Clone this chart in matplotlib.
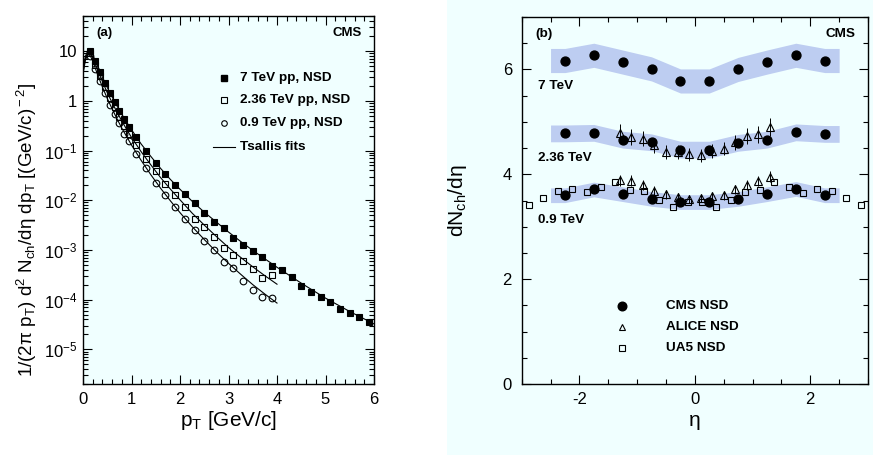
import matplotlib
matplotlib.use('Agg')
import matplotlib.pyplot as plt
import numpy as np
from matplotlib.patches import Rectangle
from matplotlib.ticker import MultipleLocator, LogLocator, FuncFormatter, NullFormatter, FixedLocator

plt.rcParams['font.family'] = ['Liberation Sans', 'DejaVu Sans']
plt.rcParams['mathtext.fontset'] = 'custom'
plt.rcParams['mathtext.rm'] = 'Liberation Sans'
plt.rcParams['mathtext.it'] = 'Liberation Sans:italic'
plt.rcParams['mathtext.bf'] = 'Liberation Sans:bold'
plt.rcParams['axes.unicode_minus'] = False

# ---------------- Panel (a) data ----------------
pt_7 = [0.15, 0.25, 0.35, 0.45, 0.55, 0.65, 0.75, 0.85, 0.95,
        1.1, 1.3, 1.5, 1.7, 1.9, 2.1, 2.3, 2.5, 2.7, 2.9, 3.1, 3.3, 3.5, 3.7, 3.9,
        4.1, 4.3, 4.5, 4.7, 4.9, 5.1, 5.3, 5.5, 5.7, 5.9]
val_7 = [10.1, 6.47, 3.84, 2.30, 1.43, 0.94, 0.63, 0.43, 0.30,
         0.186, 0.100, 0.0566, 0.0335, 0.0207, 0.01345, 8.59e-3, 5.58e-3, 3.67e-3,
         2.75e-3, 1.77e-3, 1.25e-3, 9.29e-4, 7.16e-4, 4.79e-4,
         3.98e-4, 2.84e-4, 1.87e-4, 1.39e-4, 1.14e-4, 8.75e-5, 6.53e-5, 5.35e-5,
         4.45e-5, 3.52e-5]

pt_236 = [0.15, 0.25, 0.35, 0.45, 0.55, 0.65, 0.75, 0.85, 0.95,
          1.1, 1.3, 1.5, 1.7, 1.9, 2.1, 2.3, 2.5, 2.7, 2.9, 3.1, 3.3, 3.5, 3.7, 3.9]
val_236 = [9.3, 5.37, 3.16, 1.86, 1.12, 0.74, 0.48, 0.316, 0.219,
           0.129, 0.0681, 0.0385, 0.0214, 0.0129, 7.46e-3, 4.23e-3, 2.88e-3, 1.80e-3,
           1.08e-3, 7.76e-4, 6.10e-4, 4.17e-4, 2.72e-4, 3.13e-4]

pt_09 = [0.15, 0.25, 0.35, 0.45, 0.55, 0.65, 0.75, 0.85, 0.95,
         1.1, 1.3, 1.5, 1.7, 1.9, 2.1, 2.3, 2.5, 2.7, 2.9, 3.1, 3.3, 3.5, 3.7, 3.9]
val_09 = [8.0, 4.34, 2.49, 1.43, 0.84, 0.55, 0.355, 0.22, 0.157,
          0.086, 0.0455, 0.0227, 0.0127, 7.24e-3, 4.17e-3, 2.57e-3, 1.51e-3, 1.0e-3,
          5.82e-4, 4.27e-4, 2.40e-4, 1.55e-4, 1.12e-4, 1.06e-4]

# Tsallis fit curves
fit_pt_7 = [0.0, 0.05, 0.1, 0.15, 0.2, 0.3, 0.4, 0.5, 0.6, 0.7, 0.8, 0.9, 1.0,
            1.2, 1.4, 1.6, 1.8, 2.0, 2.25, 2.5, 2.75, 3.0, 3.25, 3.5, 3.75, 4.0,
            4.5, 5.0, 5.5, 6.0]
fit_val_7 = [4.17, 7.94, 10.2, 9.77, 8.32, 5.13, 3.02, 1.86, 1.20, 0.794, 0.537, 0.372,
             0.263, 0.135, 0.0759, 0.0437, 0.0263, 0.0166, 9.55e-3, 5.75e-3, 3.63e-3,
             2.29e-3, 1.48e-3, 9.77e-4, 6.61e-4, 4.47e-4, 2.14e-4, 1.07e-4, 5.75e-5, 3.24e-5]
fit_pt_low = [0.0, 0.05, 0.1, 0.15, 0.2, 0.3, 0.4, 0.5, 0.6, 0.7, 0.8, 0.9, 1.0,
              1.2, 1.4, 1.6, 1.8, 2.0, 2.25, 2.5, 2.75, 3.0, 3.25, 3.5, 3.75, 4.0]
fit_val_236 = [3.80, 7.24, 9.33, 9.02, 7.41, 4.22, 2.45, 1.46, 0.923, 0.596, 0.394, 0.266,
               0.184, 0.0944, 0.0513, 0.0285, 0.0168, 0.0102, 5.50e-3, 3.16e-3, 1.86e-3,
               1.12e-3, 7.08e-4, 4.57e-4, 3.02e-4, 2.04e-4]
fit_val_09 = [3.47, 6.61, 8.51, 8.13, 6.31, 3.39, 1.91, 1.12, 0.692, 0.437, 0.282, 0.191,
              0.129, 0.0631, 0.0324, 0.0174, 9.77e-3, 5.62e-3, 2.95e-3, 1.62e-3, 9.12e-4,
              5.37e-4, 3.24e-4, 2.00e-4, 1.29e-4, 8.51e-5]

legend_a = ['7 TeV pp, NSD', '2.36 TeV pp, NSD', '0.9 TeV pp, NSD', 'Tsallis fits']

# ---------------- Panel (b) data ----------------
cms_eta = [-2.25, -1.75, -1.25, -0.75, -0.25, 0.25, 0.75, 1.25, 1.75, 2.25]
cms_7 = [6.17, 6.27, 6.14, 6.01, 5.78, 5.78, 6.00, 6.14, 6.27, 6.17]
cms_236 = [4.78, 4.79, 4.66, 4.61, 4.47, 4.47, 4.60, 4.66, 4.80, 4.77]
cms_09 = [3.60, 3.71, 3.62, 3.53, 3.47, 3.47, 3.53, 3.62, 3.72, 3.60]
syst_7, syst_236, syst_09 = 0.23, 0.16, 0.14

alice_eta = [-1.3, -1.1, -0.9, -0.7, -0.5, -0.3, -0.1, 0.1, 0.3, 0.5, 0.7, 0.9, 1.1, 1.3]
alice_236 = [4.78, 4.71, 4.68, 4.55, 4.43, 4.43, 4.38, 4.36, 4.45, 4.49, 4.61, 4.73, 4.76, 4.90]
alice_236_err = [0.17, 0.16, 0.15, 0.14, 0.13, 0.13, 0.12, 0.12, 0.13, 0.13, 0.14, 0.15, 0.16, 0.17]
alice_09 = [3.885, 3.88, 3.80, 3.69, 3.615, 3.565, 3.53, 3.55, 3.58, 3.60, 3.715, 3.80, 3.87, 3.955]
alice_09_err = [0.11, 0.10, 0.10, 0.09, 0.09, 0.08, 0.08, 0.08, 0.08, 0.09, 0.09, 0.10, 0.10, 0.11]

ua5_eta = [-2.875, -2.625, -2.375, -2.125, -1.875, -1.625, -1.375, -1.125, -0.875, -0.625,
           -0.375, -0.125, 0.125, 0.375, 0.625, 0.875, 1.125, 1.375, 1.625, 1.875,
           2.125, 2.375, 2.625, 2.875]
ua5_09 = [3.41, 3.55, 3.68, 3.71, 3.66, 3.75, 3.86, 3.70, 3.68, 3.51, 3.38, 3.48,
          3.48, 3.38, 3.51, 3.66, 3.70, 3.85, 3.76, 3.65, 3.71, 3.68, 3.55, 3.41]

energy_labels = ['7 TeV', '2.36 TeV', '0.9 TeV']
legend_b = ['CMS NSD', 'ALICE NSD', 'UA5 NSD']

# ---------------- Styling ----------------
bg = '#F0FFFF'
band_color = '#BDCDF1'
W, H = 873, 455
fig = plt.figure(figsize=(W / 100, H / 100), dpi=100)
fig.add_artist(Rectangle((447 / W, 0), 1 - 447 / W, 1, transform=fig.transFigure,
                         facecolor=bg, edgecolor='none', zorder=-5))

ax1 = fig.add_axes([83 / W, 1 - 384 / H, (374 - 83) / W, (384 - 16) / H])
ax2 = fig.add_axes([521.7 / W, 1 - 384 / H, (868 - 521.7) / W, (384 - 17) / H])
for ax in (ax1, ax2):
    ax.set_facecolor(bg)
    for s in ax.spines.values():
        s.set_linewidth(1.0)
    ax.tick_params(which='both', direction='in', top=True, right=True, width=0.8)
    ax.tick_params(which='major', length=6.7)
    ax.tick_params(which='minor', length=3.3)

# ---- Panel (a)
ms = 4.8
ax1.plot(fit_pt_7, fit_val_7, color='black', lw=0.8, zorder=2)
ax1.plot(fit_pt_low, fit_val_236, color='black', lw=0.8, zorder=2)
ax1.plot(fit_pt_low, fit_val_09, color='black', lw=0.8, zorder=2)
ax1.plot(pt_09, val_09, 'o', ms=ms, mfc='none', mec='black', mew=0.8, zorder=3)
ax1.plot(pt_236, val_236, 's', ms=ms, mfc='none', mec='black', mew=0.8, zorder=3)
ax1.plot(pt_7, val_7, 's', ms=ms, mfc='black', mec='black', mew=0.8, zorder=4)

ax1.set_yscale('log')
ax1.set_xlim(0, 6)
ax1.set_ylim(2.0e-6, 51)
ax1.xaxis.set_major_locator(MultipleLocator(1))
ax1.xaxis.set_minor_locator(MultipleLocator(0.2))
ax1.yaxis.set_major_locator(FixedLocator([1e-5, 1e-4, 1e-3, 1e-2, 1e-1, 1, 10]))
ax1.yaxis.set_minor_locator(LogLocator(base=10, subs=np.arange(2, 10), numticks=20))
ax1.yaxis.set_minor_formatter(NullFormatter())


def yfmt(v, pos):
    e = int(round(np.log10(v)))
    if e == 0:
        return '1'
    if e == 1:
        return '10'
    return r'$\mathregular{10^{%d}}$' % e


ax1.yaxis.set_major_formatter(FuncFormatter(yfmt))
ax1.tick_params(axis='x', labelsize=12, pad=6)
ax1.tick_params(axis='y', labelsize=12, pad=4)
ax1.set_xlabel(r'p$_{\rm T}$ [GeV/c]', fontsize=15, labelpad=1)
fig.text(27 / W, 1 - 230 / H,
         r'1/(2π p$_{\rm T}$) d$^{\rm 2}$ N$_{\rm ch}$/dη dp$_{\rm T}$ [(GeV/c)$^{\rm -2}$]',
         fontsize=13.5, rotation=90, ha='center', va='center')

ax1.text(0.047, 0.953, '(a)', transform=ax1.transAxes, fontsize=9.5, fontweight='bold',
         ha='left', va='center')
ax1.text(0.958, 0.953, 'CMS', transform=ax1.transAxes, fontsize=9.5, fontweight='bold',
         ha='right', va='center')

leg_y = [0.831, 0.771, 0.708, 0.643]
ax1.plot([0.4845], [leg_y[0]], 's', ms=4.0, mfc='black', mec='black', transform=ax1.transAxes)
ax1.plot([0.4845], [leg_y[1]], 's', ms=4.0, mfc='none', mec='black', mew=0.8, transform=ax1.transAxes)
ax1.plot([0.4845], [leg_y[2]], 'o', ms=4.0, mfc='none', mec='black', mew=0.8, transform=ax1.transAxes)
ax1.plot([0.4457, 0.5223], [leg_y[3], leg_y[3]], color='black', lw=0.8, transform=ax1.transAxes)
for yy, lab in zip(leg_y, legend_a):
    ax1.text(0.5395, yy, lab, transform=ax1.transAxes, fontsize=9.7, fontweight='bold',
             ha='left', va='center')

# ---- Panel (b)
for vals, syst in ((cms_7, syst_7), (cms_236, syst_236), (cms_09, syst_09)):
    bx = [-2.5] + cms_eta + [2.5]
    bc = np.array([vals[0]] + vals + [vals[-1]])
    ax2.fill_between(bx, bc - syst, bc + syst, color=band_color, lw=0, zorder=1)

ax2.errorbar(alice_eta, alice_236, yerr=alice_236_err, fmt='^', ms=5.3, mfc='none', mec='black',
             mew=0.8, ecolor='black', elinewidth=0.7, capsize=0, zorder=4)
ax2.errorbar(alice_eta, alice_09, yerr=alice_09_err, fmt='^', ms=5.3, mfc='none', mec='black',
             mew=0.8, ecolor='black', elinewidth=0.7, capsize=0, zorder=4)
ax2.plot(ua5_eta, ua5_09, 's', ms=4.4, mfc='none', mec='black', mew=0.8, zorder=4)
for vals in (cms_7, cms_236, cms_09):
    ax2.plot(cms_eta, vals, 'o', ms=6.4, mfc='black', mec='black', zorder=3)

ax2.set_xlim(-3, 3)
ax2.set_ylim(0, 7)
ax2.xaxis.set_major_locator(MultipleLocator(2))
ax2.xaxis.set_minor_locator(MultipleLocator(0.5))
ax2.yaxis.set_major_locator(MultipleLocator(2))
ax2.yaxis.set_minor_locator(MultipleLocator(0.5))
ax2.tick_params(axis='x', labelsize=12, pad=6)
ax2.tick_params(axis='y', labelsize=12, pad=7)
ax2.set_xlabel('η', fontsize=15, labelpad=3)
ax2.set_ylabel(r'dN$_{\rm ch}$/dη', fontsize=15)
ax2.yaxis.set_label_coords(-0.152, 0.5)

ax2.text(0.0384, 0.953, '(b)', transform=ax2.transAxes, fontsize=9.7, fontweight='bold',
         ha='left', va='center')
ax2.text(0.9625, 0.953, 'CMS', transform=ax2.transAxes, fontsize=9.7, fontweight='bold',
         ha='right', va='center')
for yy, lab in zip([0.812, 0.615, 0.447], energy_labels):
    ax2.text(0.046, yy, lab, transform=ax2.transAxes, fontsize=9.7, fontweight='bold',
             ha='left', va='center')

lb_y = [0.2125, 0.1545, 0.097]
ax2.plot([0.2896], [lb_y[0]], 'o', ms=6.2, mfc='black', mec='black', transform=ax2.transAxes)
ax2.plot([0.2896], [lb_y[1]], '^', ms=5, mfc='none', mec='black', mew=0.8, transform=ax2.transAxes)
ax2.plot([0.2896], [lb_y[2]], 's', ms=4.2, mfc='none', mec='black', mew=0.8, transform=ax2.transAxes)
for yy, lab in zip(lb_y, legend_b):
    ax2.text(0.4166, yy, lab, transform=ax2.transAxes, fontsize=9.7, fontweight='bold',
             ha='left', va='center')

fig.savefig('out.png', dpi=100, facecolor='white')
